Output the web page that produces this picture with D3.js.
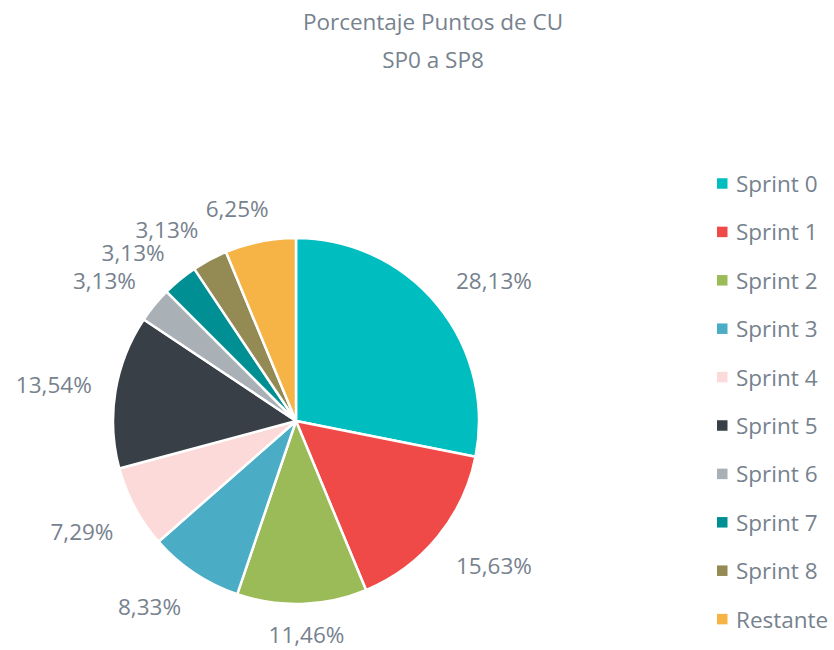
<!DOCTYPE html>
<html>
<head>
<meta charset="utf-8">
<script src="https://cdn.jsdelivr.net/npm/d3@7"></script>
<style>
  body { margin: 0; background: #fff; }
  svg { font-family: "Open Sans", sans-serif; }
</style>
</head>
<body>
<div id="chart"></div>
<script>
// Categories and values (percent of CU points)
const sprints = ["Sprint 0", "Sprint 1", "Sprint 2", "Sprint 3", "Sprint 4",
                 "Sprint 5", "Sprint 6", "Sprint 7", "Sprint 8", "Restante"];
const percentages = [28.13, 15.63, 11.46, 8.33, 7.29, 13.54, 3.13, 3.13, 3.13, 6.25];
const sliceColors = ["#00BDBF", "#F04A48", "#9BBB59", "#4BACC6", "#FDDADA",
                     "#383F46", "#A9B0B6", "#009094", "#948A54", "#F6B447"];
const titleLines = ["Porcentaje Puntos de CU", "SP0 a SP8"];

const width = 834, height = 650;
const cx = 296, cy = 421, radius = 183;
const textColor = "#76828E";

const data = sprints.map((name, i) => ({ name, value: percentages[i] }));

const svg = d3.select("#chart")
    .append("svg")
    .attr("width", width)
    .attr("height", height);

// Title
svg.append("text")
    .attr("x", 433)
    .attr("y", 30)
    .attr("text-anchor", "middle")
    .style("font-size", "22.5px")
    .style("fill", textColor)
    .selectAll("tspan")
    .data(titleLines)
    .enter()
    .append("tspan")
    .attr("x", 433)
    .attr("dy", (d, i) => i === 0 ? 0 : 38)
    .text(d => d);

const color = d3.scaleOrdinal()
    .domain(sprints)
    .range(sliceColors);

const pie = d3.pie()
    .sort(null)
    .value(d => d.value);

const arcs = pie(data);

const arc = d3.arc()
    .innerRadius(0)
    .outerRadius(radius);

const g = svg.append("g")
    .attr("transform", `translate(${cx}, ${cy})`);

g.selectAll(".slice")
    .data(arcs)
    .enter()
    .append("path")
    .attr("class", "slice")
    .attr("d", arc)
    .style("fill", d => color(d.data.name))
    .style("stroke", "#fff")
    .style("stroke-width", 2.5)
    .style("stroke-linejoin", "round");

// Labels outside the slice ends, box pushed outwards along the mid angle
const fmt = v => d3.format(".2f")(v).replace(".", ",") + "%";
const labelR = radius + 24;

const labels = g.selectAll(".label")
    .data(arcs)
    .enter()
    .append("text")
    .attr("class", "label")
    .attr("text-anchor", "middle")
    .attr("dominant-baseline", "central")
    .style("font-size", "22.5px")
    .style("fill", textColor)
    .text(d => fmt(d.data.value));

labels.each(function(d) {
    const box = this.getBBox();
    const a = (d.startAngle + d.endAngle) / 2;
    const ux = Math.sin(a), uy = -Math.cos(a);
    const clamp = v => Math.max(-1, Math.min(1, v * 3));
    const x = labelR * ux + clamp(ux) * box.width / 2;
    // keep the bottom label inside the picture
    const y = Math.min(labelR * uy + clamp(uy) * 11 + 2, height - cy - box.height / 2);
    d3.select(this).attr("x", x).attr("y", y);
});

// Legend
const legend = svg.append("g")
    .attr("transform", "translate(717, 183.5)");

const item = legend.selectAll(".item")
    .data(sprints)
    .enter()
    .append("g")
    .attr("class", "item")
    .attr("transform", (d, i) => `translate(0, ${i * 48.4})`);

item.append("rect")
    .attr("x", 0)
    .attr("y", -5.25)
    .attr("width", 10.5)
    .attr("height", 10.5)
    .style("fill", d => color(d));

item.append("text")
    .attr("x", 19)
    .attr("y", 0)
    .attr("dominant-baseline", "central")
    .style("font-size", "22.5px")
    .style("fill", textColor)
    .text(d => d);
</script>
</body>
</html>
